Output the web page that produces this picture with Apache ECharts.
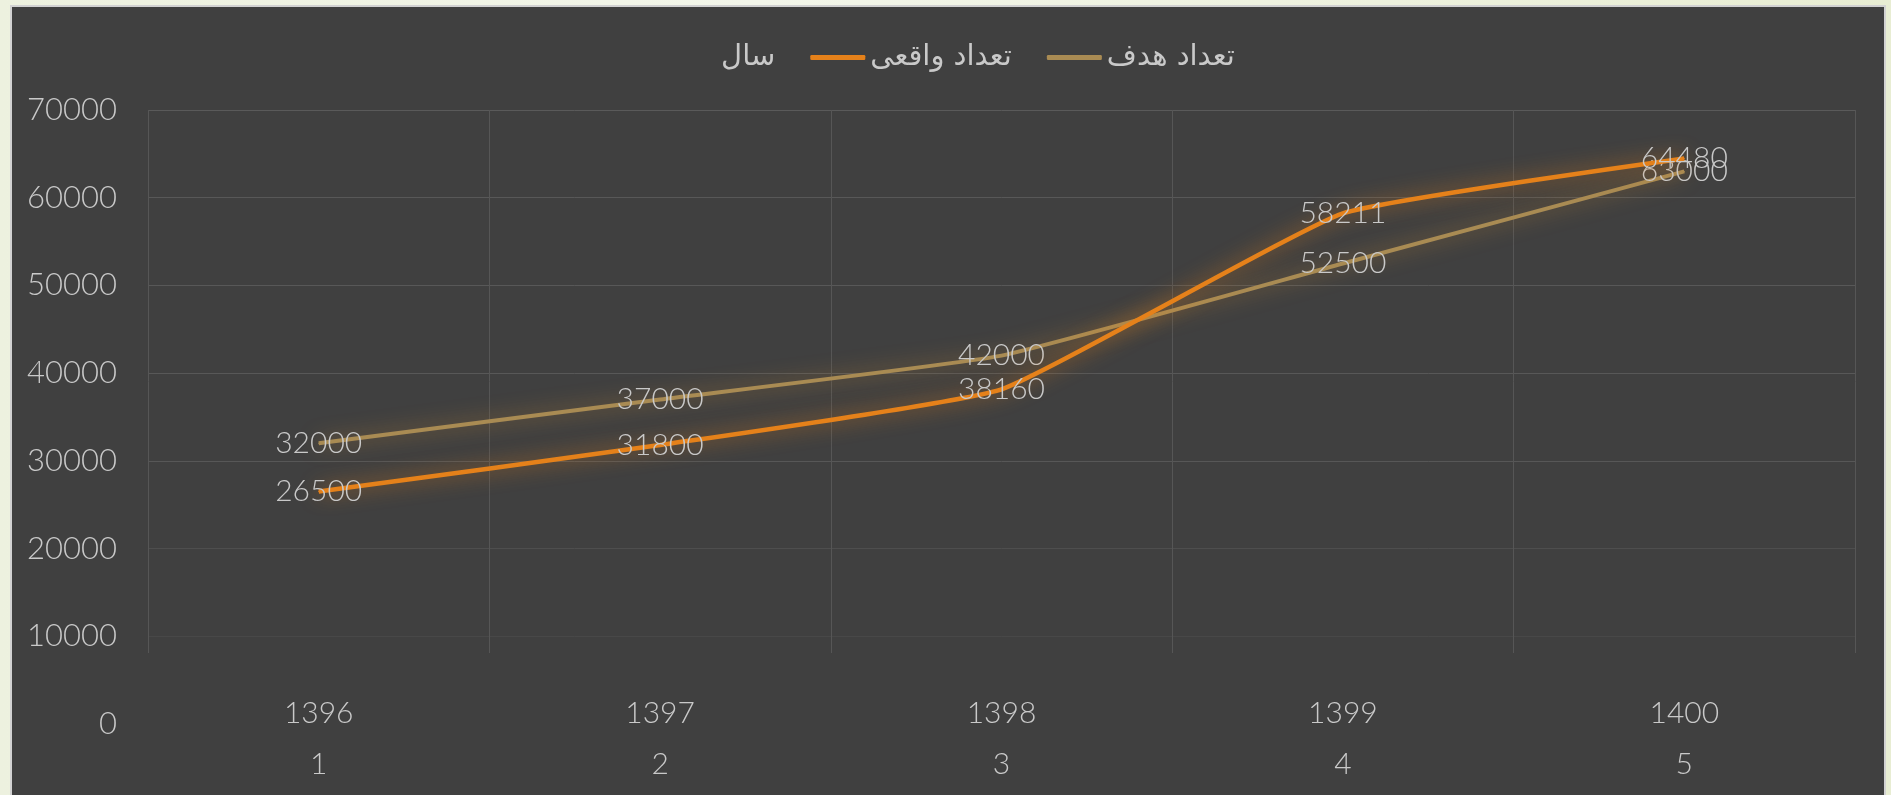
<!DOCTYPE html>
<html>
<head>
<meta charset="utf-8">
<script src="https://cdn.jsdelivr.net/npm/echarts@6/dist/echarts.min.js"></script>
<style>
  html, body { margin: 0; padding: 0; width: 1891px; height: 795px; overflow: hidden;
    background: linear-gradient(90deg, #edf1df 0%, #f3f6ea 40%, #e8edd3 100%); }
  #wrap { position: absolute; left: 12px; top: 7px; width: 1872px; height: 790px;
    background: #404040; box-shadow: 0 0 0 2px #d2d2d2; }
  #chart { width: 1872px; height: 790px; }
</style>
</head>
<body>
<div id="wrap"><div id="chart"></div></div>
<script>
// ---- data ----
const years = ['1396', '1397', '1398', '1399', '1400'];
const rowNumbers = ['1', '2', '3', '4', '5'];
const actualCounts = [26500, 31800, 38160, 58211, 64480];   // تعداد واقعی
const targetCounts = [32000, 37000, 42000, 52500, 63000];   // تعداد هدف
const yearValues = [1396, 1397, 1398, 1399, 1400];          // سال
const yTicks = { min: 0, max: 70000, interval: 10000 };

const seriesNames = { year: 'سال', actual: 'تعداد واقعی', target: 'تعداد هدف' };

const categories = years.map((y, i) => y + '\n' + rowNumbers[i]);

const textColor = '#c9c9c9';
const numFont = 'Lato, "Open Sans", "Noto Sans", sans-serif';
const orange = '#e5811a';
const tan = '#a98b53';

const chart = echarts.init(document.getElementById('chart'), null, { renderer: 'canvas' });

const labelStyle = {
  show: true,
  position: 'inside',
  color: textColor,
  fontFamily: numFont,
  fontWeight: 300,
  fontSize: 30
};

chart.setOption({
  backgroundColor: '#404040',
  animation: false,
  legend: {
    top: 31,
    left: 'center',
    itemWidth: 55,
    itemHeight: 5,
    itemGap: 35,
    icon: 'roundRect',
    data: [
      { name: seriesNames.year, itemStyle: { color: 'rgba(0,0,0,0)' } },
      { name: seriesNames.actual, itemStyle: { color: orange } },
      { name: seriesNames.target, itemStyle: { color: tan } }
    ],
    textStyle: { color: textColor, fontSize: 29, fontFamily: '"DejaVu Sans", "Noto Sans", sans-serif' }
  },
  grid: [
    { left: 136, right: 29, top: 103, bottom: 73 },
    { left: 136, right: 29, top: 103, height: 543 }
  ],
  xAxis: [
    {
      gridIndex: 0,
      type: 'category',
      data: categories,
      boundaryGap: true,
      axisLine: { show: false },
      axisTick: { show: false },
      splitLine: { show: false },
      axisLabel: {
        color: textColor,
        fontFamily: numFont,
        fontWeight: 300,
        fontSize: 30,
        lineHeight: 51,
        margin: -36
      }
    },
    {
      gridIndex: 1,
      type: 'category',
      data: categories,
      boundaryGap: true,
      axisLine: { show: false },
      axisTick: { show: false },
      axisLabel: { show: false },
      splitLine: { show: true, lineStyle: { color: '#565656', width: 1 } }
    }
  ],
  yAxis: [
    {
      gridIndex: 0,
      type: 'value',
      min: yTicks.min,
      max: yTicks.max,
      interval: yTicks.interval,
      axisLine: { show: false },
      axisTick: { show: false },
      axisLabel: {
        color: textColor,
        fontFamily: numFont,
        fontWeight: 300,
        fontSize: 31,
        margin: 31,
        formatter: (v) => String(v)
      },
      splitLine: {
        show: true,
        lineStyle: {
          width: 1,
          color: ['rgba(0,0,0,0)', '#484848', '#4e4e4e', '#575757', '#585858', '#585858', '#585858', '#5a5a5a']
        }
      }
    },
    { gridIndex: 1, type: 'value', show: false, min: 0, max: 1 }
  ],
  series: [
    {
      name: seriesNames.year,
      type: 'line',
      xAxisIndex: 0, yAxisIndex: 0,
      data: yearValues,
      symbol: 'none',
      lineStyle: { opacity: 0 },
      itemStyle: { color: 'rgba(0,0,0,0)' },
      label: { show: false },
      silent: true
    },
    {
      name: seriesNames.actual,
      type: 'line',
      xAxisIndex: 0, yAxisIndex: 0,
      data: actualCounts,
      smooth: 0.12,
      symbol: 'circle',
      symbolSize: 1,
      showSymbol: true,
      itemStyle: { color: orange },
      lineStyle: { color: orange, width: 4.5, shadowBlur: 20, shadowColor: 'rgba(229,129,26,0.8)' },
      label: labelStyle,
      z: 3
    },
    {
      name: seriesNames.target,
      type: 'line',
      xAxisIndex: 0, yAxisIndex: 0,
      data: targetCounts,
      smooth: 0.12,
      symbol: 'circle',
      symbolSize: 1,
      showSymbol: true,
      itemStyle: { color: tan },
      lineStyle: { color: tan, width: 4, shadowBlur: 20, shadowColor: 'rgba(205,140,50,0.7)' },
      label: labelStyle,
      z: 2
    }
  ]
});
</script>
</body>
</html>
